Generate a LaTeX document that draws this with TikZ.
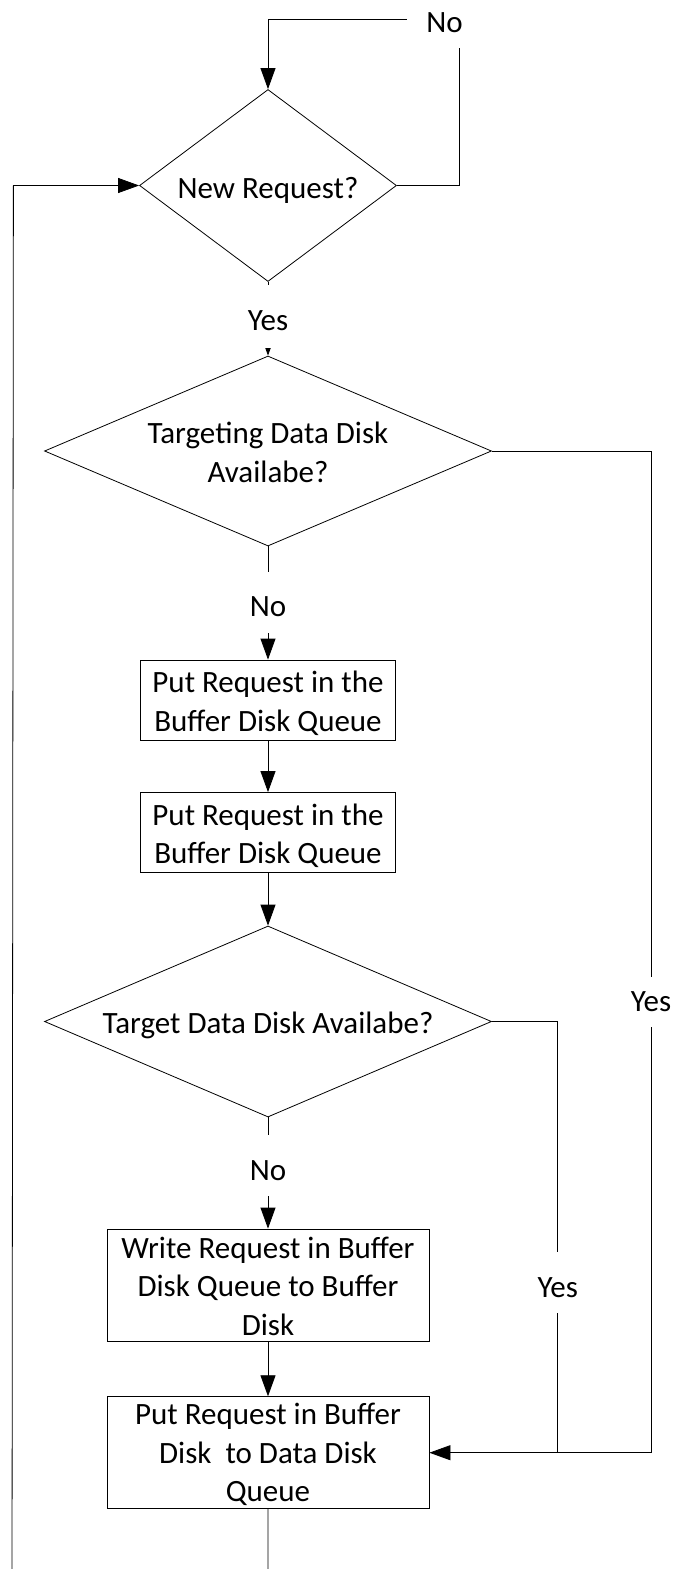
\documentclass[tikz,border=0pt]{standalone}
\usepackage{fontspec}
\setmainfont{Carlito}
\usetikzlibrary{shapes.geometric,arrows.meta}
\pgfdeclarelayer{edges}
\pgfsetlayers{edges,main}
% centred stack of lines whose baseline is the last line
\newcommand\stk[1]{\begin{tabular}[b]{@{}c@{}}#1\end{tabular}}
\tikzset{
  base/.style={font=\fontsize{31}{38.4}\selectfont, line width=0.8pt},
  decision/.style={base, draw, diamond, inner sep=0pt, text depth=0pt},
  process/.style={base, draw, rectangle, inner sep=0pt, anchor=base, minimum width=#1},
  lbl/.style={base, fill=white, inner xsep=4pt, inner ysep=0pt},
  conn/.style={line width=0.8pt},
  arr/.style={conn, -{Triangle[length=21pt,width=15pt]}}
}
\begin{document}
\begin{tikzpicture}[x=1pt,y=-1pt]
\useasboundingbox (0,0) rectangle (674,1569);
\clip (0,0) rectangle (674,1569);

% decisions
\node[decision, aspect=1.34, minimum width=257pt, minimum height=192pt, text height=25.6pt]
  (d1) at (268,185.5) {New Request?};
\node[decision, aspect=2.33, minimum width=447pt, minimum height=190pt, text height=62pt]
  (d2) at (268,451) {\stk{Targeting Data Disk\\Availabe?}};
\node[decision, aspect=2.33, minimum width=447pt, minimum height=191pt, text height=23.6pt]
  (d3) at (268,1021.5) {Target Data Disk Availabe?};

% processes
\node[process=255pt, text height=71pt, text depth=9pt]
  (b1) at (268,731) {\stk{Put Request in the\\Buffer Disk Queue}};
\node[process=255pt, text height=71pt, text depth=9pt]
  (b2) at (268,863.5) {\stk{Put Request in the\\Buffer Disk Queue}};
\node[process=322pt, text height=106pt, text depth=6pt]
  (b3) at (268,1335) {\stk{Write Request in Buffer\\Disk Queue to Buffer\\Disk}};
\node[process=322pt, text height=105pt, text depth=7pt]
  (b4) at (268,1501.7) {\stk{Put Request in Buffer\\Disk~ to Data Disk\\Queue}};

% bends of the connectors
\coordinate (k1) at (459.3,19.3);
\coordinate (k2) at (651,1452.7);
\coordinate (k3) at (557.8,1452.7);
\coordinate (lb1) at (268,1600);
\coordinate (lb2) at (12,1600);
\coordinate (lt) at (13.4,185.5);

% branch labels
\node[lbl, anchor=base west, inner xsep=19pt, text height=33pt, text depth=16pt]
  (noTop) at (407,32.3) {No};
\node[lbl, anchor=base, text height=45pt, text depth=18pt] (yes1) at (268,330) {Yes};
\node[lbl, anchor=base, text height=45pt, text depth=16pt] (no2) at (268,616.7) {No};
\node[lbl, anchor=base, text height=45pt, text depth=16pt] (no3) at (268,1180) {No};
\node[lbl, anchor=base, text height=35pt, text depth=15.3pt] (yesR) at (651,1011.7) {Yes};
\node[lbl, anchor=base, text height=45.3pt, text depth=16pt] (yesM) at (557.8,1297) {Yes};

\begin{pgfonlayer}{edges}
\clip (0,0) rectangle (674,1569);
\draw[arr] (d1.east) -| (k1) -| (d1.north);
\draw[arr] (d1.south) -- (d2.north);
\draw[arr] (d2.south) -- (b1.north);
\draw[arr] (b1.south) -- (b2.north);
\draw[arr] (b2.south) -- (d3.north);
\draw[arr] (d3.south) -- (b3.north);
\draw[arr] (b3.south) -- (b4.north);
\draw[arr] (d2.east) -| (k2) -- (b4.east);
\draw[conn] (d3.east) -| (k3);
\draw[arr] (b4.south) -- (lb1) -- (lb2) -- (lt) -- (d1.west);
\end{pgfonlayer}
\end{tikzpicture}
\end{document}
